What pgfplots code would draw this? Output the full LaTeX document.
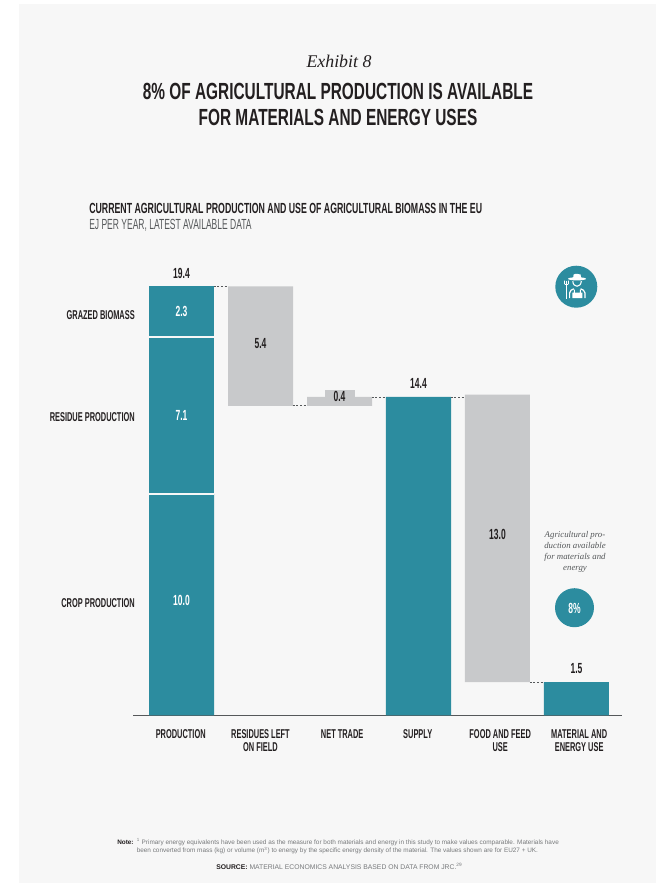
\documentclass[border=0pt]{standalone}
\usepackage{pgfplots}
\usepackage{pgfplotstable}
\usepackage{fontspec}
\pgfplotsset{compat=1.18}
\setmainfont{Liberation Sans}
\newfontfamily\condtitle[FakeStretch=0.66]{Liberation Sans}
\newfontfamily\condhead[FakeStretch=0.598]{Liberation Sans}
\newfontfamily\cond[FakeStretch=0.58]{Liberation Sans}
\newfontfamily\seriffont{Liberation Serif}
\definecolor{panel}{HTML}{F7F7F7}
\definecolor{teal}{HTML}{2C8C9F}
\definecolor{bargray}{HTML}{C8C9CB}
\definecolor{ink}{HTML}{231F20}
\definecolor{soft}{HTML}{55585A}
\definecolor{fine}{HTML}{77797B}

% Stack heights per column: an invisible base lifts the floating bars
\pgfplotstableread{
x base crop residue grazed loss bump
0 0    10.0 7.1     2.3    0    0
1 14.0 0    0       0      5.4  0
2 14.0 0    0       0      0.4  0.3
3 0    14.4 0       0      0    0
4 1.5  0    0       0      13.0 0
5 0    1.5  0       0      0    0
}\flows

% Value labels: position of the label and the printed value
\pgfplotstableread{
x y v
0 18.25 2.3
0 13.55 7.1
0 5.2 10.0
}\inlabels
\pgfplotstableread{
x y v
1 16.8 5.4
2 14.4 0.4
4 8.2 13.0
}\graylabels
\pgfplotstableread{
x y v
0 19.4 19.4
3 14.4 14.4
5 1.5 1.5
}\toplabels

\pgfplotsset{
  flowaxis/.style={
    at={(99.75pt,-536.5pt)}, anchor=south west,
    scale only axis, width=366.75pt, height=321.75pt,
    xmin=-0.614, xmax=5.576, ymin=0, ymax=19.4, clip=false,
  },
  connector/.style={draw=soft, line width=0.55pt, dash pattern=on 1.5pt off 1.2pt, forget plot},
  valuelabel/.style={draw=none, mark=none, point meta=explicit symbolic, nodes near coords,
    nodes near coords style={anchor=center, font=\cond\bfseries\fontsize{11}{12}\selectfont, text=#1, inner sep=0pt}},
}

\begin{document}
\begin{tikzpicture}
% page and panel, one unit being one pixel with y running downward
\begin{scope}[x=0.75pt,y=-0.75pt]
  \fill[white] (0,0) rectangle (656,883);
  \fill[panel] (19,4) rectangle (656,883);
\end{scope}

\begin{axis}[flowaxis,
  ybar stacked, bar width=48.75pt,
  axis x line*=bottom, axis y line=none,
  axis line style={color=soft, line width=0.8pt},
  major tick length=0pt,
  xtick={-0.01,1,2.034,2.99,4.034,5.034},
  xticklabels={PRODUCTION,{RESIDUES LEFT\\ON FIELD},NET TRADE,SUPPLY,{FOOD AND FEED\\USE},{MATERIAL AND\\ENERGY USE}},
  xticklabel style={align=center, anchor=north, yshift=-10.2pt, inner sep=0pt,
    text=ink, font=\cond\bfseries\fontsize{9.6}{9.8}\selectfont},
]
  \addplot[fill=none, draw=none] table[x=x, y=base] {\flows};
  \addplot[fill=teal, draw=none] table[x=x, y=crop] {\flows};
  \addplot[fill=teal, draw=none] table[x=x, y=residue] {\flows};
  \addplot[fill=teal, draw=none] table[x=x, y=grazed] {\flows};
  \addplot[fill=bargray, draw=none] table[x=x, y=loss] {\flows};
  \addplot[fill=bargray, draw=none, bar width=22.5pt] table[x=x, y=bump] {\flows};
\end{axis}

% overlay: segment separators, connectors and value labels
\begin{axis}[flowaxis, hide axis]
  \addplot[panel, line width=1.5pt, forget plot] coordinates {(-0.41,17.1) (0.41,17.1)};
  \addplot[panel, line width=1.5pt, forget plot] coordinates {(-0.41,10.0) (0.41,10.0)};
  \addplot[connector] coordinates {(0.41,19.4) (0.59,19.4)};
  \addplot[connector] coordinates {(1.41,14.0) (1.59,14.0)};
  \addplot[connector] coordinates {(2.41,14.4) (2.59,14.4)};
  \addplot[connector] coordinates {(3.41,14.4) (3.59,14.4)};
  \addplot[connector] coordinates {(4.41,1.5) (4.59,1.5)};
  \addplot[valuelabel=white] table[x=x, y=y, meta=v] {\inlabels};
  \addplot[valuelabel=ink] table[x=x, y=y, meta=v] {\graylabels};
  \addplot[valuelabel=ink, nodes near coords style={yshift=10pt}] table[x=x, y=y, meta=v] {\toplabels};
\end{axis}

\begin{scope}[x=0.75pt,y=-0.75pt]
  % headings
  \node[anchor=center, text=ink] at (339,61) {\seriffont\itshape\fontsize{13.4}{16}\selectfont Exhibit 8};
  \node[anchor=center, text=ink, align=center, font=\condtitle\bfseries\fontsize{17.5}{19.8}\selectfont] at (338,104.5)
    {8\% OF AGRICULTURAL PRODUCTION IS AVAILABLE\\FOR MATERIALS AND ENERGY USES};
  \node[anchor=west, inner sep=0pt, text=ink] at (89,208)
    {\condhead\bfseries\fontsize{11}{12}\selectfont CURRENT AGRICULTURAL PRODUCTION AND USE OF AGRICULTURAL BIOMASS IN THE EU};
  \node[anchor=west, inner sep=0pt, text=soft] at (89,225)
    {\cond\fontsize{11}{12}\selectfont EJ PER YEAR, LATEST AVAILABLE DATA};

  % stack segment names
  \foreach \y/\t in {315/GRAZED BIOMASS,417/RESIDUE PRODUCTION,603/CROP PRODUCTION}
    \node[anchor=east, inner sep=0pt, text=ink] at (135,\y)
      {\cond\bfseries\fontsize{9.6}{10}\selectfont \t};

  % share callout
  \node[anchor=center, align=center, text=soft, font=\seriffont\itshape\fontsize{6.6}{8.25}\selectfont] at (575,552)
    {Agricultural pro-\\duction available\\for materials and\\energy};
  \fill[teal] (574.5,607.7) circle (19.5);
  \node[text=white] at (574.5,608) {\cond\bfseries\fontsize{11}{12}\selectfont 8\%};

  % farmer badge
  \fill[teal] (576.3,286.7) circle (21);
  \begin{scope}[white]
    \fill (573,279) -- (573.6,274.5) .. controls (575,273.6) and (579,273.6) .. (580.6,274.5) -- (581.2,279) -- cycle;
    \fill (577,278.8) ellipse (9 and 1.6);
    \draw[line width=0.8pt] (572.8,281) .. controls (573,288) and (581,288) .. (581.3,281);
    \draw[line width=0.9pt, line join=round] (569.6,298) -- (569.6,293) .. controls (569.6,290.5) and (572,289.5) .. (574,288.8);
    \draw[line width=0.9pt, line join=round] (585,298) -- (585,293) .. controls (585,290.5) and (582.5,289.5) .. (580.5,288.8);
    \fill (572.3,298) -- (572.3,292.5) -- (573.8,292.5) -- (573.8,289.5) -- (574.8,289.5) -- (574.8,292.5) -- (579.8,292.5) -- (579.8,289.5) -- (580.8,289.5) -- (580.8,292.5) -- (582.3,292.5) -- (582.3,298) -- cycle;
    \draw[line width=0.7pt] (566.5,285) -- (566.5,298.5);
    \draw[line width=0.55pt] (564.4,280.5) -- (564.4,283.5) .. controls (564.4,285) and (568.6,285) .. (568.6,283.5) -- (568.6,280.5);
    \draw[line width=0.55pt] (566.5,280.5) -- (566.5,285);
  \end{scope}

  % footnotes
  \node[anchor=west, inner sep=0pt, text=ink] at (117,842)
    {\fontsize{4.8}{6}\selectfont\textbf{Note:}};
  \node[anchor=west, inner sep=0pt, text=fine] at (136.5,842)
    {\fontsize{4.8}{6}\selectfont \textsuperscript{1} Primary energy equivalents have been used as the measure for both materials and energy in this study to make values comparable. Materials have};
  \node[anchor=west, inner sep=0pt, text=fine] at (136.5,850.5)
    {\fontsize{4.8}{6}\selectfont been converted from mass (kg) or volume (m\textsuperscript{3}) to energy by the specific energy density of the material. The values shown are for EU27 + UK.};
  \node[anchor=west, inner sep=0pt, text=fine] at (216,866.5)
    {\fontsize{5.1}{6}\selectfont\textcolor{ink}{\textbf{SOURCE:}} MATERIAL ECONOMICS ANALYSIS BASED ON DATA FROM JRC.\textsuperscript{29}};
\end{scope}
\end{tikzpicture}
\end{document}
